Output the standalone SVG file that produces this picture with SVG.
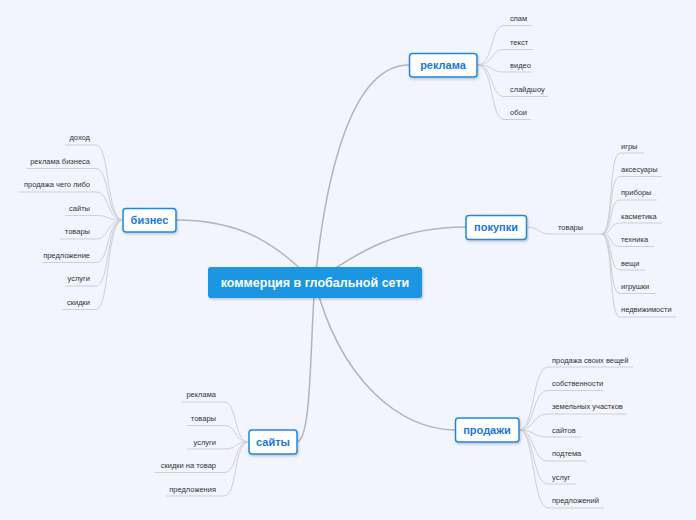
<svg xmlns="http://www.w3.org/2000/svg" width="696" height="520" viewBox="0 0 696 520">
<style>
.bg{fill:#f2f5fd}
.main{stroke:#b3b3ba;stroke-width:1.5;fill:none}
.leaf{stroke:#cfcfd4;stroke-width:1;fill:none}
.node rect{fill:#fff;stroke:#1f88e0;stroke-width:1.5}
.nt{font-family:"Liberation Sans",Arial,sans-serif;font-weight:bold;font-size:11px;fill:#1a78d8;text-anchor:middle}
.lt{font-family:"Liberation Sans",Arial,sans-serif;font-size:7.5px;fill:#333}
.r{text-anchor:end}
.ct{font-family:"Liberation Sans",Arial,sans-serif;font-weight:bold;font-size:12.5px;fill:#fff;text-anchor:middle}
</style>
<defs>
<filter id="sh" x="-20%" y="-30%" width="140%" height="160%">
<feDropShadow dx="1" dy="1.5" stdDeviation="1" flood-color="#000" flood-opacity="0.2"/>
</filter>
</defs>
<rect class="bg" width="696" height="520"/>
<g id="connectors">
<path class="main" d="M315,282 C325,180 350,65 409,65"/>
<path class="main" d="M176,220 C250,220 280,250 315,282"/>
<path class="main" d="M315,282 C360,250 400,227 466,227"/>
<path class="main" d="M297,442 C312,440 310,340 315,282"/>
<path class="main" d="M315,282 C340,380 400,430 455,430"/>
<!-- реклама leaves -->
<path class="leaf" d="M477,65 C494,65 490,25.5 504,25.5 H532"/>
<path class="leaf" d="M477,65 C494,65 490,49.5 504,49.5 H533"/>
<path class="leaf" d="M477,65 C494,65 490,72 504,72 H531"/>
<path class="leaf" d="M477,65 C494,65 490,96.5 504,96.5 H548"/>
<path class="leaf" d="M477,65 C494,65 490,119.5 504,119.5 H531"/>
<!-- бизнес leaves -->
<path class="leaf" d="M123,220 C106,220 110,145 96,145 H65"/>
<path class="leaf" d="M123,220 C106,220 110,168.5 96,168.5 H27"/>
<path class="leaf" d="M123,220 C106,220 110,192 96,192 H19"/>
<path class="leaf" d="M123,220 C106,220 110,215.5 96,215.5 H65"/>
<path class="leaf" d="M123,220 C106,220 110,239 96,239 H60"/>
<path class="leaf" d="M123,220 C106,220 110,262.5 96,262.5 H42"/>
<path class="leaf" d="M123,220 C106,220 110,286 96,286 H65"/>
<path class="leaf" d="M123,220 C106,220 110,309.5 96,309.5 H62"/>
<!-- покупки leaves -->
<path class="leaf" d="M526,227 C540,227 538,234 550,234 H601"/>
<path class="leaf" d="M601,234 C614,234 608,153 620,153 H644"/>
<path class="leaf" d="M601,234 C614,234 608,176.5 620,176.5 H662"/>
<path class="leaf" d="M601,234 C614,234 608,200 620,200 H657"/>
<path class="leaf" d="M601,234 C614,234 608,223 620,223 H662"/>
<path class="leaf" d="M601,234 C614,234 608,246.5 620,246.5 H654"/>
<path class="leaf" d="M601,234 C614,234 608,270 620,270 H645"/>
<path class="leaf" d="M601,234 C614,234 608,293.5 620,293.5 H656"/>
<path class="leaf" d="M601,234 C614,234 608,317 620,317 H676"/>
<!-- сайты leaves -->
<path class="leaf" d="M249,442 C233,442 238,402 224,402 H182"/>
<path class="leaf" d="M249,442 C233,442 238,425.5 224,425.5 H187"/>
<path class="leaf" d="M249,442 C233,442 238,449 224,449 H187"/>
<path class="leaf" d="M249,442 C233,442 238,472.5 224,472.5 H155"/>
<path class="leaf" d="M249,442 C233,442 238,496 224,496 H166"/>
<!-- продажи leaves -->
<path class="leaf" d="M519,430 C535,430 532,367 548,367 H633"/>
<path class="leaf" d="M519,430 C535,430 532,390.5 548,390.5 H603"/>
<path class="leaf" d="M519,430 C535,430 532,414 548,414 H627"/>
<path class="leaf" d="M519,430 C535,430 532,437 548,437 H581"/>
<path class="leaf" d="M519,430 C535,430 532,461 548,461 H586"/>
<path class="leaf" d="M519,430 C535,430 532,484 548,484 H576"/>
<path class="leaf" d="M519,430 C535,430 532,508 548,508 H604"/>
</g>
<g id="center">
<rect x="208" y="267" width="214" height="31" rx="3" fill="#1b95e3" filter="url(#sh)"/>
<text class="ct" x="315" y="287">коммерция в глобальной сети</text>
</g>
<g id="reklama" class="node">
<rect x="409.5" y="53.5" width="67.5" height="23.5" rx="3" filter="url(#sh)"/>
<text class="nt" x="443" y="69">реклама</text>
</g>
<g id="biznes" class="node">
<rect x="123" y="208.5" width="53" height="23.5" rx="3" filter="url(#sh)"/>
<text class="nt" x="149.5" y="224">бизнес</text>
</g>
<g id="pokupki" class="node">
<rect x="466" y="215.5" width="60.5" height="24" rx="3" filter="url(#sh)"/>
<text class="nt" x="496" y="231">покупки</text>
</g>
<g id="saity" class="node">
<rect x="249" y="430" width="48" height="24" rx="3" filter="url(#sh)"/>
<text class="nt" x="273" y="445.5">сайты</text>
</g>
<g id="prodazhi" class="node">
<rect x="455.5" y="418" width="63.5" height="24" rx="3" filter="url(#sh)"/>
<text class="nt" x="487" y="433.5">продажи</text>
</g>
<g id="reklama-leaves">
<text class="lt" x="510" y="21">спам</text>
<text class="lt" x="510" y="45">текст</text>
<text class="lt" x="510" y="68">видео</text>
<text class="lt" x="510" y="92">слайдшоу</text>
<text class="lt" x="510" y="115">обои</text>
</g>
<g id="biznes-leaves">
<text class="lt r" x="90" y="140">доход</text>
<text class="lt r" x="90" y="164">реклама бизнеса</text>
<text class="lt r" x="90" y="187">продажа чего либо</text>
<text class="lt r" x="90" y="211">сайты</text>
<text class="lt r" x="90" y="234">товары</text>
<text class="lt r" x="90" y="258">предложение</text>
<text class="lt r" x="90" y="281">услуги</text>
<text class="lt r" x="90" y="305">скидки</text>
</g>
<g id="pokupki-leaves">
<text class="lt" x="558" y="229.5">товары</text>
<text class="lt" x="621" y="148.5">игры</text>
<text class="lt" x="621" y="172">аксесуары</text>
<text class="lt" x="621" y="195">приборы</text>
<text class="lt" x="621" y="218.5">касметика</text>
<text class="lt" x="621" y="242">техника</text>
<text class="lt" x="621" y="265.5">вещи</text>
<text class="lt" x="621" y="289">игрушки</text>
<text class="lt" x="621" y="312">недвижимости</text>
</g>
<g id="saity-leaves">
<text class="lt r" x="216" y="397">реклама</text>
<text class="lt r" x="216" y="421">товары</text>
<text class="lt r" x="216" y="444.5">услуги</text>
<text class="lt r" x="216" y="468">скидки на товар</text>
<text class="lt r" x="216" y="492">предложения</text>
</g>
<g id="prodazhi-leaves">
<text class="lt" x="552" y="362.5">продажа своих вещей</text>
<text class="lt" x="552" y="385.5">собственности</text>
<text class="lt" x="552" y="409">земельных участков</text>
<text class="lt" x="552" y="432.5">сайтов</text>
<text class="lt" x="552" y="456">подтема</text>
<text class="lt" x="552" y="479.5">услуг</text>
<text class="lt" x="552" y="503">предложений</text>
</g>
</svg>
